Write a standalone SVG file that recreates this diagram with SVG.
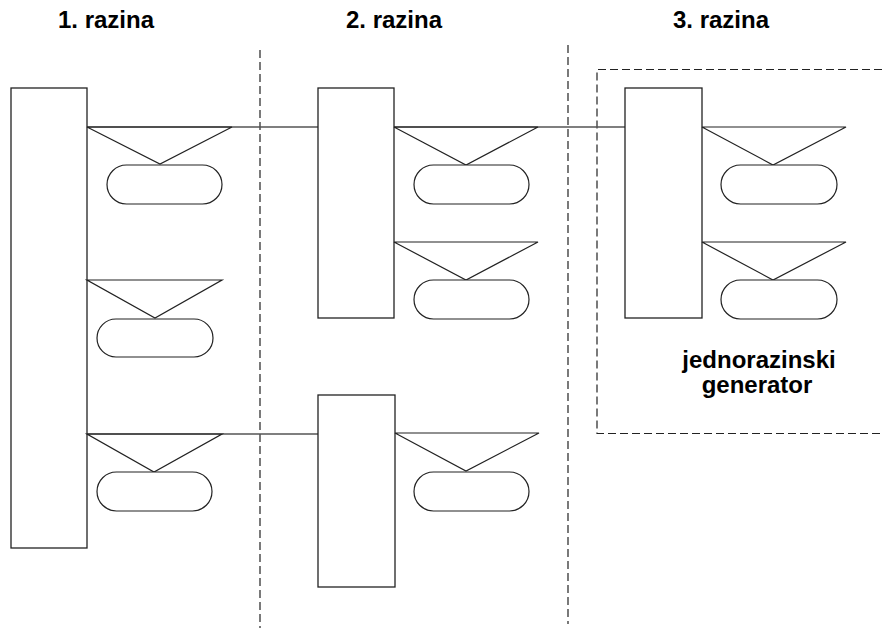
<svg xmlns="http://www.w3.org/2000/svg" width="882" height="628" viewBox="0 0 882 628">
<style>
.blk{fill:#fff;stroke:#222;stroke-width:1.3}
.tri{fill:none;stroke:#222;stroke-width:1.2;stroke-linejoin:miter}
.pill{fill:#fff;stroke:#222;stroke-width:1.2}
.con{fill:none;stroke:#555;stroke-width:1.5}
.dash{fill:none;stroke:#222;stroke-width:1.2;stroke-dasharray:8,4}
.t{font-family:"Liberation Sans",Arial,sans-serif;font-weight:bold;font-size:24px;fill:#000;text-anchor:middle}
</style>
<rect width="882" height="628" fill="#fff"/>
<g id="headers">
<text class="t" x="106" y="28">1. razina</text>
<text class="t" x="394" y="28">2. razina</text>
<text class="t" x="721" y="28">3. razina</text>
</g>
<g id="separators">
<line class="dash" x1="260" y1="50" x2="260" y2="628"/>
<line class="dash" x1="568" y1="45" x2="568" y2="624"/>
<path class="dash" d="M882 69.5 H597 V433.5 H882"/>
</g>
<g id="connectors">
<line class="con" x1="87" y1="127" x2="318" y2="127"/>
<line class="con" x1="394" y1="127" x2="625" y2="127"/>
<line class="con" x1="87" y1="434" x2="318" y2="434"/>
</g>
<g id="level1-block"><rect class="blk" x="11" y="88" width="76" height="460"/></g>
<g id="level2-block-a"><rect class="blk" x="318" y="88" width="76" height="230"/></g>
<g id="level2-block-b"><rect class="blk" x="318" y="395" width="77" height="192"/></g>
<g id="level3-block"><rect class="blk" x="625" y="88" width="77" height="230"/></g>
<g id="l1-item1"><polygon class="tri" points="87,127 232,127 160,164"/><rect class="pill" x="107" y="165" width="115" height="39" rx="19.5"/></g>
<g id="l1-item2"><polygon class="tri" points="87,280 222,280 155,318"/><rect class="pill" x="97" y="319" width="116" height="38" rx="19"/></g>
<g id="l1-item3"><polygon class="tri" points="87,434 222,434 154,472"/><rect class="pill" x="97" y="472" width="115" height="39" rx="19.5"/></g>
<g id="l2-item1"><polygon class="tri" points="394,127 538,127 466,165"/><rect class="pill" x="414" y="165" width="115" height="39" rx="19.5"/></g>
<g id="l2-item2"><polygon class="tri" points="394,242 538,242 466,280"/><rect class="pill" x="414" y="280" width="115" height="39" rx="19.5"/></g>
<g id="l2-item3"><polygon class="tri" points="395,433 539,433 466,471"/><rect class="pill" x="414" y="472" width="115" height="39" rx="19.5"/></g>
<g id="l3-item1"><polygon class="tri" points="702,127 846,127 773,165"/><rect class="pill" x="721" y="165" width="116" height="39" rx="19.5"/></g>
<g id="l3-item2"><polygon class="tri" points="702,242 846,242 773,280"/><rect class="pill" x="721" y="280" width="116" height="39" rx="19.5"/></g>
<g id="generator-label">
<text class="t" x="759" y="368">jednorazinski</text>
<text class="t" x="757" y="393">generator</text>
</g>
</svg>
